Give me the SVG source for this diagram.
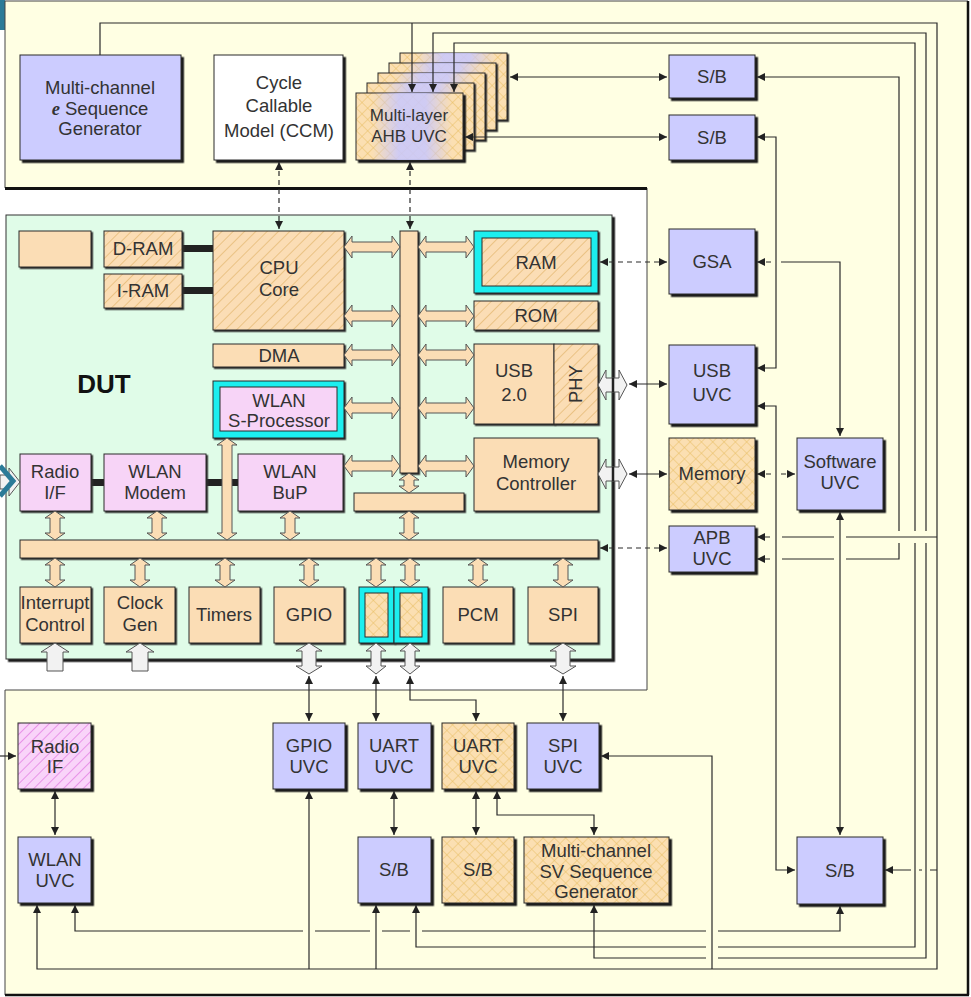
<svg xmlns="http://www.w3.org/2000/svg" width="971" height="997" viewBox="0 0 971 997">
<defs>
<style>
.ln{fill:none;stroke:#2a2a2a;stroke-width:1.2}
.ds{stroke-dasharray:5 4}
.me{marker-end:url(#ah)}
.mb{marker-start:url(#ah);marker-end:url(#ah)}
.t{font-family:"Liberation Sans",Arial,sans-serif;font-size:18.5px;fill:#333;text-anchor:middle}
.ts{font-size:17px}
.bx{stroke:#2a2a2a;stroke-width:1}
.blue{fill:#CCCCFF}
.pink{fill:#F7D4F7}
.tan{fill:#FBDDB5}
.cyan{fill:#1FEFEF}
.hat{fill:url(#hatch)}
.xh{fill:url(#xhatch)}
.sh{filter:url(#sh)}
.sh1{filter:url(#sh1)}
.ta{fill:#FBDDB5;stroke:#555;stroke-width:1}
.wa{fill:#F2F2F2;stroke:#555;stroke-width:1}
.blk{fill:#222}
</style>
<filter id="sh" x="-5%" y="-5%" width="120%" height="120%"><feDropShadow dx="2.5" dy="2.5" stdDeviation="0" flood-color="#1a1a1a" flood-opacity="1"/></filter>
<filter id="sh1" x="-5%" y="-5%" width="120%" height="120%"><feDropShadow dx="1.5" dy="1.5" stdDeviation="0" flood-color="#2a2a2a" flood-opacity="1"/></filter>
<marker id="ah" viewBox="0 0 10 10" refX="10" refY="5" markerWidth="9" markerHeight="8" markerUnits="userSpaceOnUse" orient="auto-start-reverse"><path d="M0,0 L10,5 L0,10 z" fill="#222"/></marker>
<pattern id="hatch" width="8" height="8" patternUnits="userSpaceOnUse" patternTransform="rotate(45)"><rect width="8" height="8" fill="#FBDDB5"/><line x1="0" y1="0" x2="0" y2="8" stroke="#E2B46A" stroke-width="1.3"/></pattern>
<pattern id="xhatch" width="8" height="8" patternUnits="userSpaceOnUse" patternTransform="rotate(45)"><rect width="8" height="8" fill="#FBDFB2"/><path d="M0,0 V8 M0,0 H8" stroke="#E8BE62" stroke-width="1"/></pattern>
<pattern id="phatch" width="7" height="7" patternUnits="userSpaceOnUse" patternTransform="rotate(45)"><rect width="7" height="7" fill="#F9D4F9"/><line x1="0" y1="0" x2="0" y2="7" stroke="#E070E0" stroke-width="1.3"/></pattern>
<linearGradient id="lav" x1="0" x2="1" y1="0" y2="0">
<stop offset="0.15" stop-color="#C8C8FF" stop-opacity="0"/>
<stop offset="0.4" stop-color="#C8C8FF" stop-opacity="0.85"/>
<stop offset="0.65" stop-color="#C8C8FF" stop-opacity="0.85"/>
<stop offset="0.9" stop-color="#C8C8FF" stop-opacity="0"/>
</linearGradient>
<polygon id="hA" points="0,0 8,-11 8,-5 48,-5 48,-11 56,0 48,11 48,5 8,5 8,11"/>
<polygon id="vA" points="0,0 10,7 5,7 5,22 10,22 0,29 -10,22 -5,22 -5,7 -10,7"/>
<polygon id="vB" points="0,0 10,7 5,7 5,13 10,13 0,20 -10,13 -5,13 -5,7 -10,7"/>
<polygon id="wH" points="0,0 8,-15 8,-7 21,-7 21,-15 29,0 21,15 21,7 8,7 8,15"/>
<polygon id="wV" points="0,0 13,8 7,8 7,23 13,23 0,31 -13,23 -7,23 -7,8 -13,8"/>
<polygon id="wV2" points="0,0 10,8 5,8 5,23 10,23 0,31 -10,23 -5,23 -5,8 -10,8"/>
<polygon id="wU" points="0,0 14,9 8,9 8,28 -8,28 -8,9 -14,9"/>
</defs>

<rect width="971" height="997" fill="#fff"/>
<rect x="0" y="0" width="5" height="30" fill="#2B7B98"/>
<path d="M5,1 H968 V995 H5 V690 H647 V188 H5 Z" fill="#FFFFE3" stroke="#444" stroke-width="1"/>
<path d="M5,188.5 H647" stroke="#111" stroke-width="3"/>
<path d="M5,995 H969 M968,1 V995" stroke="#111" stroke-width="2.5" fill="none"/>

<g id="dut">
<rect x="6" y="215" width="606" height="444" fill="#E0FCE8" stroke="#333" stroke-width="1" filter="url(#sh)"/>
<text class="t" x="104" y="393" style="font-size:26px;font-weight:bold;fill:#111">DUT</text>
</g>

<g id="mc-e-seq-gen"><rect class="bx blue sh" x="20" y="55" width="161" height="105"/>
<text class="t" x="100" y="94">Multi-channel</text>
<text class="t" x="100" y="115"><tspan style="font-family:'Liberation Serif',serif;font-weight:bold;font-style:italic">e</tspan> Sequence</text>
<text class="t" x="100" y="135">Generator</text></g>

<g id="ccm"><rect class="bx sh" fill="#fff" x="214" y="55" width="129" height="105"/>
<text class="t" x="279" y="89">Cycle</text>
<text class="t" x="279" y="112">Callable</text>
<text class="t" x="279" y="137">Model (CCM)</text></g>

<g id="ahb-uvc">
<rect class="bx xh sh1" x="400" y="53" width="107" height="67"/><rect x="400" y="53" width="107" height="67" fill="url(#lav)"/>
<rect class="bx xh sh1" x="389" y="63" width="107" height="67"/><rect x="389" y="63" width="107" height="67" fill="url(#lav)"/>
<rect class="bx xh sh1" x="378" y="73" width="107" height="67"/><rect x="378" y="73" width="107" height="67" fill="url(#lav)"/>
<rect class="bx xh sh1" x="367" y="83" width="107" height="67"/><rect x="367" y="83" width="107" height="67" fill="url(#lav)"/>
<rect class="bx xh sh" x="356" y="93" width="107" height="67"/><rect x="356" y="93" width="107" height="67" fill="url(#lav)"/>
<text class="t ts" x="409" y="121">Multi-layer</text>
<text class="t ts" x="409" y="142">AHB UVC</text></g>

<g id="sb-1"><rect class="bx blue sh" x="669" y="55" width="86" height="43"/><text class="t" x="712" y="83">S/B</text></g>
<g id="sb-2"><rect class="bx blue sh" x="669" y="115" width="86" height="45"/><text class="t" x="712" y="144">S/B</text></g>
<g id="gsa"><rect class="bx blue sh" x="669" y="229" width="86" height="65"/><text class="t" x="712" y="268">GSA</text></g>
<g id="usb-uvc"><rect class="bx blue sh" x="669" y="345" width="86" height="79"/><text class="t" x="712" y="377">USB</text><text class="t" x="712" y="401">UVC</text></g>
<g id="memory"><rect class="bx xh sh" x="669" y="438" width="86" height="72"/><text class="t" x="712" y="480">Memory</text></g>
<g id="software-uvc"><rect class="bx blue sh" x="797" y="438" width="86" height="72"/><text class="t" x="840" y="468">Software</text><text class="t" x="840" y="489">UVC</text></g>
<g id="apb-uvc"><rect class="bx blue sh" x="669" y="526" width="86" height="46"/><text class="t" x="712" y="544">APB</text><text class="t" x="712" y="565">UVC</text></g>
<g id="sb-right"><rect class="bx blue sh" x="797" y="837" width="86" height="67"/><text class="t" x="840" y="877">S/B</text></g>

<g id="radio-if"><rect class="bx sh" fill="url(#phatch)" x="18" y="723" width="73" height="66"/><text class="t" x="55" y="753">Radio</text><text class="t" x="55" y="773">IF</text></g>
<g id="wlan-uvc"><rect class="bx blue sh" x="18" y="837" width="73" height="66"/><text class="t" x="55" y="866">WLAN</text><text class="t" x="55" y="887">UVC</text></g>
<g id="gpio-uvc"><rect class="bx blue sh" x="273" y="723" width="72" height="66"/><text class="t" x="309" y="752">GPIO</text><text class="t" x="309" y="773">UVC</text></g>
<g id="uart-uvc"><rect class="bx blue sh" x="358" y="723" width="73" height="66"/><text class="t" x="394" y="752">UART</text><text class="t" x="394" y="773">UVC</text></g>
<g id="uart-uvc-2"><rect class="bx xh sh" x="442" y="723" width="72" height="66"/><text class="t" x="478" y="752">UART</text><text class="t" x="478" y="773">UVC</text></g>
<g id="spi-uvc"><rect class="bx blue sh" x="527" y="723" width="72" height="66"/><text class="t" x="563" y="752">SPI</text><text class="t" x="563" y="773">UVC</text></g>
<g id="sb-left"><rect class="bx blue sh" x="358" y="837" width="73" height="66"/><text class="t" x="394" y="876">S/B</text></g>
<g id="sb-tan"><rect class="bx xh sh" x="442" y="837" width="72" height="66"/><text class="t" x="478" y="876">S/B</text></g>
<g id="sv-seq-gen"><rect class="bx xh sh" x="524" y="837" width="145" height="66"/><text class="t" x="596" y="857">Multi-channel</text><text class="t" x="596" y="878">SV Sequence</text><text class="t" x="596" y="898">Generator</text></g>

<g id="dut-blocks">
<rect class="blk" x="182" y="245" width="31" height="7"/>
<rect class="blk" x="182" y="287" width="31" height="7"/>
<rect class="blk" x="91" y="479" width="13" height="7"/>
<rect class="blk" x="206" y="479" width="32" height="7"/>
<g id="blank"><rect class="bx tan sh1" x="19" y="231" width="72" height="36"/></g>
<g id="d-ram"><rect class="bx hat sh1" x="104" y="231" width="78" height="36"/><text class="t" x="143" y="255">D-RAM</text></g>
<g id="i-ram"><rect class="bx hat sh1" x="104" y="274" width="78" height="34"/><text class="t" x="143" y="297">I-RAM</text></g>
<g id="cpu-core"><rect class="bx hat sh1" x="213" y="231" width="131" height="99"/><text class="t" x="279" y="274">CPU</text><text class="t" x="279" y="296">Core</text></g>
<g id="dma"><rect class="bx tan sh1" x="213" y="344" width="131" height="23"/><text class="t" x="279" y="362">DMA</text></g>
<g id="wlan-s-proc"><rect class="bx cyan sh1" x="213" y="381" width="131" height="57"/><rect class="bx pink" x="220" y="387" width="117" height="44"/><text class="t" x="279" y="407">WLAN</text><text class="t" x="279" y="427">S-Processor</text></g>
<g id="ahb-bus"><rect class="bx tan sh1" x="400" y="231" width="18" height="242"/></g>
<g id="apb-bus"><rect class="bx tan sh1" x="20" y="540" width="578" height="18"/></g>
<g id="bridge"><rect class="bx tan sh1" x="354" y="493" width="110" height="18"/></g>
<g id="ram"><rect class="bx cyan sh1" x="474" y="231" width="124" height="62"/><rect class="bx hat" x="482" y="238" width="109" height="48"/><text class="t" x="536" y="269">RAM</text></g>
<g id="rom"><rect class="bx hat sh1" x="474" y="301" width="124" height="29"/><text class="t" x="536" y="322">ROM</text></g>
<g id="usb"><rect class="bx tan sh1" x="474" y="344" width="80" height="80"/><text class="t" x="514" y="377">USB</text><text class="t" x="514" y="401">2.0</text>
<rect class="bx hat sh1" x="554" y="344" width="44" height="80"/><text class="t" transform="translate(576,384) rotate(-90)" x="0" y="6">PHY</text></g>
<g id="mem-ctrl"><rect class="bx tan sh1" x="474" y="438" width="124" height="73"/><text class="t" x="536" y="468">Memory</text><text class="t" x="536" y="490">Controller</text></g>
<g id="radio-if-dut"><rect class="bx pink sh1" x="20" y="454" width="71" height="57"/><text class="t" x="55" y="478">Radio</text><text class="t" x="55" y="499">I/F</text></g>
<g id="wlan-modem"><rect class="bx pink sh1" x="104" y="454" width="102" height="57"/><text class="t" x="155" y="478">WLAN</text><text class="t" x="155" y="499">Modem</text></g>
<g id="wlan-bup"><rect class="bx pink sh1" x="238" y="454" width="105" height="57"/><text class="t" x="290" y="478">WLAN</text><text class="t" x="290" y="499">BuP</text></g>
<g id="interrupt"><rect class="bx tan sh1" x="20" y="587" width="71" height="56"/><text class="t" x="55" y="609">Interrupt</text><text class="t" x="55" y="631">Control</text></g>
<g id="clock-gen"><rect class="bx tan sh1" x="104" y="587" width="71" height="56"/><text class="t" x="140" y="609">Clock</text><text class="t" x="140" y="631">Gen</text></g>
<g id="timers"><rect class="bx tan sh1" x="189" y="587" width="71" height="56"/><text class="t" x="224" y="621">Timers</text></g>
<g id="gpio"><rect class="bx tan sh1" x="274" y="587" width="70" height="56"/><text class="t" x="309" y="621">GPIO</text></g>
<g id="uart-1"><rect class="bx cyan sh1" x="359" y="587" width="35" height="56"/><rect class="bx xh" x="365" y="593" width="23" height="44"/></g>
<g id="uart-2"><rect class="bx cyan sh1" x="394" y="587" width="34" height="56"/><rect class="bx xh" x="400" y="593" width="22" height="44"/></g>
<g id="pcm"><rect class="bx tan sh1" x="443" y="587" width="70" height="56"/><text class="t" x="478" y="621">PCM</text></g>
<g id="spi"><rect class="bx tan sh1" x="528" y="587" width="70" height="56"/><text class="t" x="563" y="621">SPI</text></g>
</g>

<g id="bus-arrows">
<use href="#hA" class="ta" x="344" y="247"/><use href="#hA" class="ta" x="418" y="247"/>
<use href="#hA" class="ta" x="344" y="316"/><use href="#hA" class="ta" x="418" y="316"/>
<use href="#hA" class="ta" x="344" y="355"/><use href="#hA" class="ta" x="418" y="355"/>
<use href="#hA" class="ta" x="344" y="408"/><use href="#hA" class="ta" x="418" y="408"/>
<use href="#hA" class="ta" x="344" y="466"/><use href="#hA" class="ta" x="418" y="466"/>
<use href="#vB" class="ta" x="409" y="473"/>
<use href="#vA" class="ta" x="409" y="511"/>
<polygon class="ta" points="227,438 237,445 232,445 232,533 237,533 227,540 217,533 222,533 222,445 217,445"/>
<use href="#vA" class="ta" x="55" y="511"/>
<use href="#vA" class="ta" x="157" y="511"/>
<use href="#vA" class="ta" x="290" y="511"/>
<use href="#vA" class="ta" x="55" y="558"/>
<use href="#vA" class="ta" x="140" y="558"/>
<use href="#vA" class="ta" x="225" y="558"/>
<use href="#vA" class="ta" x="309" y="558"/>
<use href="#vA" class="ta" x="376" y="558"/>
<use href="#vA" class="ta" x="410" y="558"/>
<use href="#vA" class="ta" x="478" y="558"/>
<use href="#vA" class="ta" x="563" y="558"/>
<use href="#wH" class="wa" x="598" y="385"/>
<use href="#wH" class="wa" x="598" y="474"/>
<path d="M613,378 V392 M613,467 V481" stroke="#222" stroke-width="2.5"/>
<use href="#wV" class="wa" x="309" y="643"/>
<use href="#wV" class="wa" x="563" y="643"/>
<use href="#wV2" class="wa" x="376" y="643"/>
<use href="#wV2" class="wa" x="410" y="643"/>
<use href="#wU" class="wa" x="55" y="643"/>
<use href="#wU" class="wa" x="140" y="643"/>
<polygon class="wa" points="0,475 9,475 9,468 20,482 9,496 9,489 0,489"/>
<polyline points="0,466 13,481 0,496" fill="none" stroke="#2B7B98" stroke-width="5"/>
</g>

<g id="connectors">
<path class="ln me" d="M100,55 V23 H937 V969 H37 V905"/>
<path class="ln me" d="M412,23 V92"/>
<path class="ln mb" d="M433,92 V33 H926 V531 M926,543 V958 H718 M706,958 H594 V905"/>
<path class="ln mb" d="M454,92 V43 H915 V531 M915,543 V947 H718 M706,947 H416 V905"/>
<path class="ln mb" d="M757,77 H899 V531 M899,543 V559 H846 M834,559 H782 M770,559 H757"/>
<path class="ln me" d="M937,537 H846 M834,537 H782 M770,537 H757"/>
<path class="ln me" d="M937,870 H930 M922,870 H919 M911,870 H885"/>
<path class="ln mb" d="M510,77 H667"/>
<path class="ln mb" d="M465,137 H667"/>
<path class="ln mb" d="M757,137 H776 V368 H757"/>
<path class="ln mb" d="M757,406 H776 V870 H795"/>
<path class="ln ds" d="M757,262 H771" style="marker-start:url(#ah)"/>
<path class="ln me" d="M781,262 H840 V436"/>
<path class="ln ds mb" d="M600,262 H667"/>
<path class="ln ds mb" d="M600,548 H667"/>
<path class="ln ds mb" d="M757,474 H771 M781,474 H795"/>
<path class="ln mb" d="M629,384 H667"/>
<path class="ln mb" d="M629,474 H667"/>
<path class="ln ds mb" d="M279,162 V229"/>
<path class="ln ds mb" d="M410,162 V229"/>
<path class="ln mb" d="M840,512 V835"/>
<path class="ln mb" d="M840,906 V931 H718 M706,931 H422 M410,931 H382 M370,931 H315 M303,931 H75 V905"/>
<path class="ln me" d="M309,969 V791"/>
<path class="ln me" d="M376,969 V905"/>
<path class="ln me" d="M712,969 V756 H601"/>
<path class="ln mb" d="M309,676 V721"/>
<path class="ln mb" d="M376,676 V721"/>
<path class="ln mb" d="M410,676 V700 H476 V721"/>
<path class="ln mb" d="M563,676 V721"/>
<path class="ln mb" d="M394,791 V835"/>
<path class="ln mb" d="M476,791 V835"/>
<path class="ln mb" d="M497,791 V815 H594 V835"/>
<path class="ln mb" d="M55,791 V835"/>
<path class="ln me" d="M0,756 H16"/>
</g>
</svg>
